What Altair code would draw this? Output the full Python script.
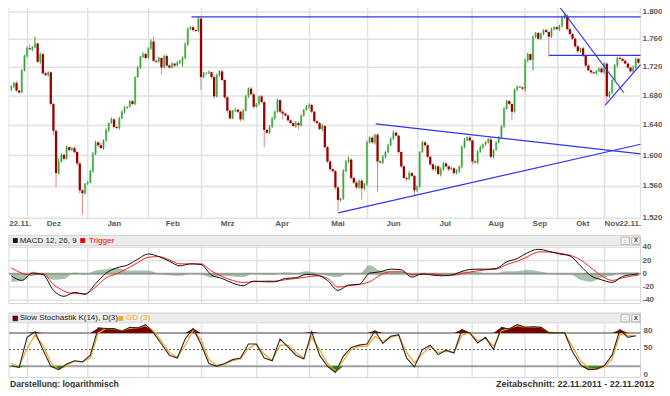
import altair as alt
import pandas as pd

# ---------------- data ----------------
# daily closes (trading days 22.11.2011 .. 22.11.2012); open = previous close
open_first = 1.6900
close = [
    1.6929, 1.6982, 1.6876, 1.6849, 1.7157, 1.7360, 1.7470, 1.7456, 1.7484, 1.7539,
    1.7279, 1.7388, 1.7116, 1.7090, 1.7130, 1.6691, 1.6328, 1.5772, 1.5922, 1.6010,
    1.5959, 1.6111, 1.6073, 1.6098, 1.6047, 1.5897, 1.5551, 1.5514, 1.5636, 1.5649,
    1.5797, 1.6022, 1.6174, 1.6136, 1.6098, 1.6200, 1.6340, 1.6431, 1.6482, 1.6379,
    1.6366, 1.6495, 1.6586, 1.6639, 1.6652, 1.6730, 1.6691, 1.7063, 1.7197, 1.7347,
    1.7388, 1.7333, 1.7470, 1.7567, 1.7292, 1.7279, 1.7333, 1.7197, 1.7360, 1.7225,
    1.7197, 1.7252, 1.7225, 1.7265, 1.7292, 1.7333, 1.7525, 1.7747, 1.7775, 1.7733,
    1.7719, 1.7901, 1.7063, 1.7116, 1.7116, 1.7130, 1.7063, 1.6796, 1.7090, 1.7143,
    1.7022, 1.6783, 1.6599, 1.6495, 1.6599, 1.6612, 1.6586, 1.6482, 1.6599, 1.6796,
    1.6902, 1.6823, 1.6652, 1.6691, 1.6796, 1.6717, 1.6340, 1.6302, 1.6379, 1.6495,
    1.6586, 1.6744, 1.6586, 1.6560, 1.6534, 1.6469, 1.6431, 1.6392, 1.6431, 1.6405,
    1.6534, 1.6612, 1.6652, 1.6678, 1.6586, 1.6456, 1.6431, 1.6353, 1.6392, 1.6111,
    1.5922, 1.5822, 1.5797, 1.5587, 1.5429, 1.5445, 1.5797, 1.5922, 1.5947, 1.5710,
    1.5649, 1.5587, 1.5673, 1.5575, 1.5636, 1.6174, 1.6238, 1.6174, 1.6276, 1.5922,
    1.5910, 1.5984, 1.6047, 1.6136, 1.6225, 1.6302, 1.6263, 1.6047, 1.5859, 1.5710,
    1.5698, 1.5772, 1.5735, 1.5551, 1.5599, 1.6047, 1.6174, 1.6136, 1.5984, 1.5884,
    1.5822, 1.5859, 1.5760, 1.5822, 1.5897, 1.5859, 1.5822, 1.5834, 1.5772, 1.5797,
    1.5859, 1.6111, 1.6200, 1.6238, 1.6200, 1.5922, 1.5910, 1.6047, 1.6111, 1.6149,
    1.6174, 1.6212, 1.5984, 1.6073, 1.6174, 1.6238, 1.6392, 1.6626, 1.6730, 1.6691,
    1.6586, 1.6889, 1.6929, 1.6920, 1.6902, 1.7292, 1.7388, 1.7306, 1.7636, 1.7691,
    1.7608, 1.7677, 1.7733, 1.7705, 1.7636, 1.7747, 1.7775, 1.7747, 1.7789, 1.7915,
    1.7944, 1.7747, 1.7677, 1.7608, 1.7498, 1.7429, 1.7470, 1.7360, 1.7225, 1.7157,
    1.7130, 1.7116, 1.7143, 1.7184, 1.7130, 1.7252, 1.6796, 1.6849, 1.7022, 1.7225,
    1.7333, 1.7320, 1.7292, 1.7252, 1.7197, 1.7143, 1.7197, 1.7320, 1.7265,
]
# upper / lower wick beyond the candle body, in pips (0.0001)
wick_up_pips = [
    20, 15, 25, 10, 15, 20, 30, 60, 20, 100, 15, 20, 10, 25, 15, 10, 20, 15, 40, 20,
    15, 20, 10, 15, 25, 10, 20, 15, 10, 20, 15, 25, 20, 10, 30, 15, 20, 10, 25, 15,
    10, 20, 15, 25, 10, 20, 15, 10, 20, 15, 25, 20, 15, 30, 70, 20, 15, 10, 20, 25,
    15, 20, 10, 25, 15, 20, 30, 20, 15, 25, 10, 25, 15, 20, 15, 25, 10, 30, 20, 15,
    20, 10, 15, 25, 10, 20, 15, 10, 25, 20, 15, 30, 20, 15, 10, 20, 15, 10, 25, 20,
    15, 20, 10, 25, 15, 20, 10, 15, 30, 20, 15, 10, 25, 20, 15, 10, 20, 15, 25, 10,
    15, 20, 10, 20, 15, 10, 25, 20, 40, 15, 10, 20, 15, 25, 10, 20, 15, 20, 10, 20,
    15, 25, 10, 20, 15, 30, 20, 15, 10, 20, 15, 25, 10, 20, 15, 10, 20, 15, 25, 10,
    20, 15, 10, 25, 20, 15, 10, 20, 15, 25, 10, 20, 30, 15, 20, 10, 15, 25, 20, 10,
    15, 20, 25, 10, 15, 20, 10, 25, 15, 20, 10, 15, 20, 10, 15, 25, 20, 10, 20, 15,
    15, 20, 10, 25, 15, 20, 15, 10, 20, 25, 30, 15, 20, 10, 15, 20, 10, 25, 15, 20,
    10, 15, 20, 10, 25, 15, 20, 15, 10, 20, 15, 25, 10, 20, 15, 10, 30, 20, 15,
]
wick_dn_pips = [
    30, 15, 20, 25, 10, 15, 20, 10, 25, 15, 20, 30, 15, 10, 20, 25, 60, 185, 20, 15,
    25, 10, 20, 15, 20, 30, 40, 270, 20, 15, 10, 20, 15, 25, 10, 20, 15, 30, 10, 20,
    15, 20, 10, 25, 15, 10, 20, 15, 10, 20, 15, 25, 10, 20, 15, 20, 10, 100, 15, 20,
    20, 15, 25, 10, 20, 80, 15, 20, 10, 25, 15, 20, 175, 15, 20, 10, 25, 30, 15, 20,
    15, 25, 30, 20, 10, 15, 20, 25, 15, 10, 20, 15, 25, 10, 20, 15, 230, 20, 15, 10,
    20, 15, 25, 80, 15, 20, 10, 15, 25, 60, 20, 15, 10, 25, 20, 15, 10, 20, 30, 15,
    20, 25, 15, 30, 140, 20, 15, 10, 20, 25, 15, 20, 15, 140, 20, 25, 15, 20, 30, 390,
    15, 20, 25, 15, 10, 20, 15, 25, 20, 15, 30, 20, 15, 60, 20, 15, 10, 25, 20, 15,
    25, 20, 15, 30, 20, 15, 25, 10, 20, 15, 20, 25, 15, 10, 20, 40, 15, 20, 10, 25,
    20, 15, 25, 20, 10, 15, 20, 25, 15, 20, 117, 15, 20, 10, 25, 40, 20, 15, 149, 20,
    25, 15, 20, 10, 286, 15, 20, 10, 25, 15, 20, 25, 15, 20, 30, 25, 20, 15, 20, 10,
    25, 15, 20, 10, 15, 20, 80, 20, 15, 10, 25, 20, 15, 10, 20, 15, 25, 20, 15,
]

# MACD 12,26,9 and trigger, read every 4th trading day
macd_days = [4 * k for k in range(60)] + [238]
macd_line = [-3, -10, 1, -1, -25, -34, -28, -31, -15, 1,
             9, 13, 22, 30, 26, 19, 12, 15, 14, -2,
             -7, -14, -18, -11, -12, -12, -7, -6, -1, -2,
             -10, -25, -17, -16, 1, 3, 7, 6, -5, 0,
             -2, -3, -1, 5, 7, 7, 8, 18, 23, 32,
             37, 34, 30, 27, 12, -3, -9, -13, -4, -1, 0]
trigger_line = [9, 1, -2, 0, -16, -26, -30, -30, -20, -6,
                0, 8, 17, 25, 26, 21, 15, 15, 15, 4,
                -4, -10, -13, -12, -11, -11, -9, -7, -5, -3,
                -7, -20, -18, -16, -12, -2, 3, 3, -1, -1,
                0, -2, -2, 1, 4, 6, 7, 14, 19, 26,
                33, 33, 31, 28, 21, 9, -3, -10, -6, -3, -2]

# Slow stochastic K(14), D(3), read every 3rd trading day
stoch_days = [3 * k for k in range(80)]
stoch_k = [21, 18, 72, 82, 50, 20, 14, 24, 30, 28,
           40, 89, 88, 88, 83, 90, 89, 95, 80, 60,
           40, 35, 69, 88, 60, 25, 20, 25, 32, 35,
           60, 60, 35, 30, 69, 55, 40, 33, 82, 40,
           20, 9, 38, 54, 58, 60, 84, 61, 74, 77,
           35, 19, 50, 58, 41, 49, 44, 86, 80, 62,
           72, 50, 90, 87, 95, 90, 91, 90, 80, 80,
           80, 46, 23, 14, 15, 21, 40, 86, 72, 75]
stoch_d = [25, 20, 52, 76, 58, 27, 14, 22, 29, 28,
           35, 80, 88, 87, 84, 88, 89, 93, 84, 65,
           45, 36, 58, 85, 68, 32, 22, 24, 30, 33,
           52, 60, 42, 30, 58, 58, 45, 35, 72, 50,
           25, 12, 30, 50, 56, 56, 74, 65, 72, 76,
           45, 26, 42, 56, 45, 47, 45, 76, 80, 66,
           70, 56, 84, 88, 93, 90, 91, 90, 82, 80,
           80, 55, 30, 17, 15, 19, 33, 78, 76, 74]

# calendar (positions in trading-day units)
month_start_day = [6.2, 29.0, 52.1, 72.2, 93.2, 113.2, 135.2, 154.3, 174.9, 195.0, 207.4, 225.1]
axis_labels = ["22.11.", "Dez", "Jan", "Feb", "Mrz", "Apr", "Mai", "Jun", "Jul",
               "Aug", "Sep", "Okt", "Nov", "22.11."]
axis_label_day = [3.4, 16.2, 39.1, 61.3, 82.1, 102.8, 124.0, 145.1, 164.7,
                  184.0, 200.6, 216.9, 228.0, 234.9]

price_ticks = [1.52, 1.56, 1.60, 1.64, 1.68, 1.72, 1.76, 1.80]
macd_ticks = [40, 20, 0, -20, -40]
stoch_ticks = [80, 50, 0]

# drawn trend lines (two end points each)
trend_id = ["top", "top", "tri_hi", "tri_hi", "tri_lo", "tri_lo",
            "mid", "mid", "fall", "fall", "rise", "rise"]
trend_day = [68.4, 238.8, 138.3, 238.8, 124.0, 238.8,
             204.1, 238.8, 208.4, 232.5, 225.4, 238.8]
trend_price = [1.7925, 1.7925, 1.6422, 1.6022, 1.5266, 1.6149,
               1.7370, 1.7370, 1.8057, 1.6845, 1.6675, 1.7238]

# ---------------- layout ----------------
W, H = 654, 380
SX, SY = W / 670.0, H / 396.0


def px(v):
    return round(v * SX, 2)


def py(v):
    return round(v * SY, 2)


FONT = "Liberation Sans"
GRID = "#e2e2e2"

x_scale = alt.Scale(domain=[-0.5, 238.8], range=[px(2), px(648)], nice=False, zero=False)
price_scale = alt.Scale(type="log", domain=[1.52, 1.80], range=[py(219), py(4)], nice=False)
macd_scale = alt.Scale(domain=[-40, 40], range=[py(304.6), py(249.4)], nice=False, zero=False)
stoch_scale = alt.Scale(domain=[0, 100], range=[py(385), py(327)], nice=False, zero=False)


def X(f):
    return alt.X(f, scale=x_scale, axis=None)


def YP(f):
    return alt.Y(f, scale=price_scale, axis=None)


def YM(f):
    return alt.Y(f, scale=macd_scale, axis=None)


def YS(f):
    return alt.Y(f, scale=stoch_scale, axis=None)


def blank():
    return alt.Chart(pd.DataFrame({"z": [0]}))


def rect(x1, x2, y1, y2, **mk):
    return blank().mark_rect(**mk).encode(
        x=alt.value(px(x1)), x2=alt.value(px(x2)), y=alt.value(py(y1)), y2=alt.value(py(y2)))


def vrule(x, y1, y2, **mk):
    return blank().mark_rule(**mk).encode(
        x=alt.value(px(x)), y=alt.value(py(y1)), y2=alt.value(py(y2)))


def text_px(txt, x, y, **mk):
    base = dict(font=FONT, fontSize=8, baseline="middle", align="left", color="#222")
    base.update(mk)
    return blank().mark_text(text=txt, **base).encode(x=alt.value(px(x)), y=alt.value(py(y)))


# ---------------- frames ----------------
opens = [open_first] + close[:-1]
cd = pd.DataFrame({"t": list(range(len(close))), "o": opens, "c": close})
cd["hi"] = [max(o, c) + u / 10000.0 for o, c, u in zip(opens, close, wick_up_pips)]
cd["lo"] = [min(o, c) - d / 10000.0 for o, c, d in zip(opens, close, wick_dn_pips)]
up = cd[cd["c"] >= cd["o"]]
dn = cd[cd["c"] < cd["o"]]

months = pd.DataFrame({"t": month_start_day})
mlabels = pd.DataFrame({"t": axis_label_day, "lab": axis_labels})
pgrid = pd.DataFrame({"p": price_ticks, "lab": ["%.3f" % p for p in price_ticks]})

md = pd.DataFrame({"t": macd_days, "m": macd_line, "s": trigger_line})
md["h"] = md["m"] - md["s"]
md["zero"] = 0

sd = pd.DataFrame({"t": stoch_days, "k": stoch_k, "d": stoch_d})
sd["hi"] = [max(v, 80) for v in stoch_k]
sd["lo"] = [min(v, 20) for v in stoch_k]
sd["b80"] = 80
sd["b20"] = 20

tl = pd.DataFrame({"id": trend_id, "t": trend_day, "p": trend_price})

layers = []

# ---- main panel ----
layers.append(alt.Chart(pgrid).mark_rule(color=GRID, strokeWidth=1.5).encode(
    y=YP("p:Q"), x=alt.value(px(1)), x2=alt.value(px(648))))
layers.append(alt.Chart(months).mark_rule(color=GRID, strokeWidth=1.5).encode(
    x=X("t:Q"), y=alt.value(py(0)), y2=alt.value(py(219))))
layers.append(vrule(648, 0, 219, color=GRID, strokeWidth=1.5))
layers.append(vrule(1, 0, 219, color=GRID, strokeWidth=1))

# candles
layers.append(alt.Chart(dn).mark_rule(color="#d08a8a", strokeWidth=1).encode(
    x=X("t:Q"), y=YP("lo:Q"), y2="hi:Q"))
layers.append(alt.Chart(dn).mark_rule(color="#9a0000", strokeWidth=2.3).encode(
    x=X("t:Q"), y=YP("o:Q"), y2="c:Q"))
layers.append(alt.Chart(up).mark_rule(color="#92d392", strokeWidth=2.3).encode(
    x=X("t:Q"), y=YP("o:Q"), y2="c:Q"))
layers.append(alt.Chart(up).mark_rule(color="#2f9a2f", strokeWidth=1).encode(
    x=X("t:Q"), y=YP("lo:Q"), y2="hi:Q"))

# trend lines
layers.append(alt.Chart(tl).mark_line(color="#3434f0", strokeWidth=1.2).encode(
    x=X("t:Q"), y=YP("p:Q"), detail="id:N"))

# axis labels
layers.append(alt.Chart(pgrid).mark_text(
    font=FONT, fontSize=8, fontWeight="bold", color="#5a5a5a", align="left", baseline="middle").encode(
    y=YP("p:Q"), x=alt.value(px(650)), text="lab:N"))
layers.append(alt.Chart(mlabels).mark_text(
    font=FONT, fontSize=8, fontWeight="bold", color="#5a5a5a", align="center", baseline="middle").encode(
    x=X("t:Q"), y=alt.value(py(225)), text="lab:N"))

# ---- MACD panel ----
layers.append(rect(1, 648, 237, 308, fill="white", stroke="#d6d6d6", strokeWidth=1))
layers.append(rect(1, 648, 237, 247.5, fill="#ececec", stroke="#d6d6d6", strokeWidth=1))
layers.append(alt.Chart(months).mark_rule(color=GRID, strokeWidth=1.5).encode(
    x=X("t:Q"), y=alt.value(py(248)), y2=alt.value(py(308))))
layers.append(alt.Chart(pd.DataFrame({"v": [40, 20, -20, -40]})).mark_rule(
    color=GRID, strokeWidth=1.5).encode(y=YM("v:Q"), x=alt.value(px(1)), x2=alt.value(px(648))))
layers.append(alt.Chart(pd.DataFrame({"v": [0]})).mark_rule(
    color="#a0a0a0", strokeWidth=2).encode(y=YM("v:Q"), x=alt.value(px(1)), x2=alt.value(px(648))))
layers.append(alt.Chart(md).mark_area(color="#6f9a6f", opacity=0.6, interpolate="monotone").encode(
    x=X("t:Q"), y=YM("h:Q"), y2="zero:Q"))
layers.append(alt.Chart(md).mark_line(color="#ff2020", strokeWidth=1, interpolate="monotone").encode(
    x=X("t:Q"), y=YM("s:Q")))
layers.append(alt.Chart(md).mark_line(color="#111111", strokeWidth=1, interpolate="monotone").encode(
    x=X("t:Q"), y=YM("m:Q")))
layers.append(alt.Chart(pd.DataFrame({"v": macd_ticks, "lab": [str(v) for v in macd_ticks]})).mark_text(
    font=FONT, fontSize=8, fontWeight="bold", color="#5a5a5a", align="left", baseline="middle").encode(
    y=YM("v:Q"), x=alt.value(px(650)), text="lab:N"))
layers.append(rect(5, 10, 239.8, 244.8, fill="#111111"))
layers.append(text_px("MACD 12, 26, 9", 12, 242.5))
layers.append(rect(74, 79, 239.8, 244.8, fill="#ee0000"))
layers.append(text_px("Trigger", 83, 242.5, color="#ee0000"))

# ---- Stochastic panel ----
layers.append(rect(1, 648, 318, 385, fill="white", stroke="#d6d6d6", strokeWidth=1))
layers.append(rect(1, 648, 318, 328, fill="#ececec", stroke="#d6d6d6", strokeWidth=1))
layers.append(alt.Chart(months).mark_rule(color=GRID, strokeWidth=1.5).encode(
    x=X("t:Q"), y=alt.value(py(328.5)), y2=alt.value(py(385))))
layers.append(alt.Chart(pd.DataFrame({"v": [80, 20]})).mark_rule(
    color="#a0a0a0", strokeWidth=2).encode(y=YS("v:Q"), x=alt.value(px(1)), x2=alt.value(px(648))))
layers.append(alt.Chart(pd.DataFrame({"v": [50]})).mark_rule(
    color="#555555", strokeWidth=1, strokeDash=[2, 2]).encode(
    y=YS("v:Q"), x=alt.value(px(1)), x2=alt.value(px(648))))
layers.append(alt.Chart(sd).mark_area(color="#7a0000").encode(
    x=X("t:Q"), y=YS("hi:Q"), y2="b80:Q"))
layers.append(alt.Chart(sd).mark_area(color="#1f8a00").encode(
    x=X("t:Q"), y=YS("lo:Q"), y2="b20:Q"))
layers.append(alt.Chart(sd).mark_line(color="#f5a623", strokeWidth=1.2).encode(
    x=X("t:Q"), y=YS("d:Q")))
layers.append(alt.Chart(sd).mark_line(color="#2a2a2a", strokeWidth=1.1).encode(
    x=X("t:Q"), y=YS("k:Q")))
layers.append(alt.Chart(pd.DataFrame({"v": stoch_ticks, "lab": [str(v) for v in stoch_ticks]})).mark_text(
    font=FONT, fontSize=8, fontWeight="bold", color="#5a5a5a", align="left", baseline="middle", dy=-2).encode(
    y=YS("v:Q"), x=alt.value(px(651)), text="lab:N"))
layers.append(rect(5, 10, 321, 326, fill="#6a0000", stroke="#222222", strokeWidth=0.6))
layers.append(text_px("Slow Stochastik K(14), D(3)", 12, 323.5))
layers.append(rect(113, 118, 321, 326, fill="#f5a623"))
layers.append(text_px("GD (3)", 121, 323.5, color="#f5a623"))

# header icons
for yy in (238.8, 319.5):
    layers.append(rect(628, 636.5, yy, yy + 7.5, fill="#f6f6f6", stroke="#a8a8a8", strokeWidth=0.8))
    layers.append(rect(639, 647.5, yy, yy + 7.5, fill="#f6f6f6", stroke="#a8a8a8", strokeWidth=0.8))
    layers.append(text_px("::", 632.2, yy + 3.6, fontSize=6, align="center", color="#444"))
    layers.append(text_px("x", 643.3, yy + 3.4, fontSize=7, fontWeight="bold", align="center", color="#444"))

# footer
layers.append(text_px("Darstellung: logarithmisch", 2, 392, fontSize=8.6, fontWeight="bold", color="#333"))
layers.append(text_px("Zeitabschnitt: 22.11.2011 - 22.11.2012", 662, 392, fontSize=9,
                      fontWeight="bold", color="#333", align="right"))

chart = alt.layer(*layers).resolve_scale(y="independent").properties(
    width=W, height=H, padding=0, autosize=alt.AutoSizeParams(type="none"),
    background="white",
).configure_view(stroke=None)

chart.save("out.html", embed_options={"renderer": "svg", "actions": False})
